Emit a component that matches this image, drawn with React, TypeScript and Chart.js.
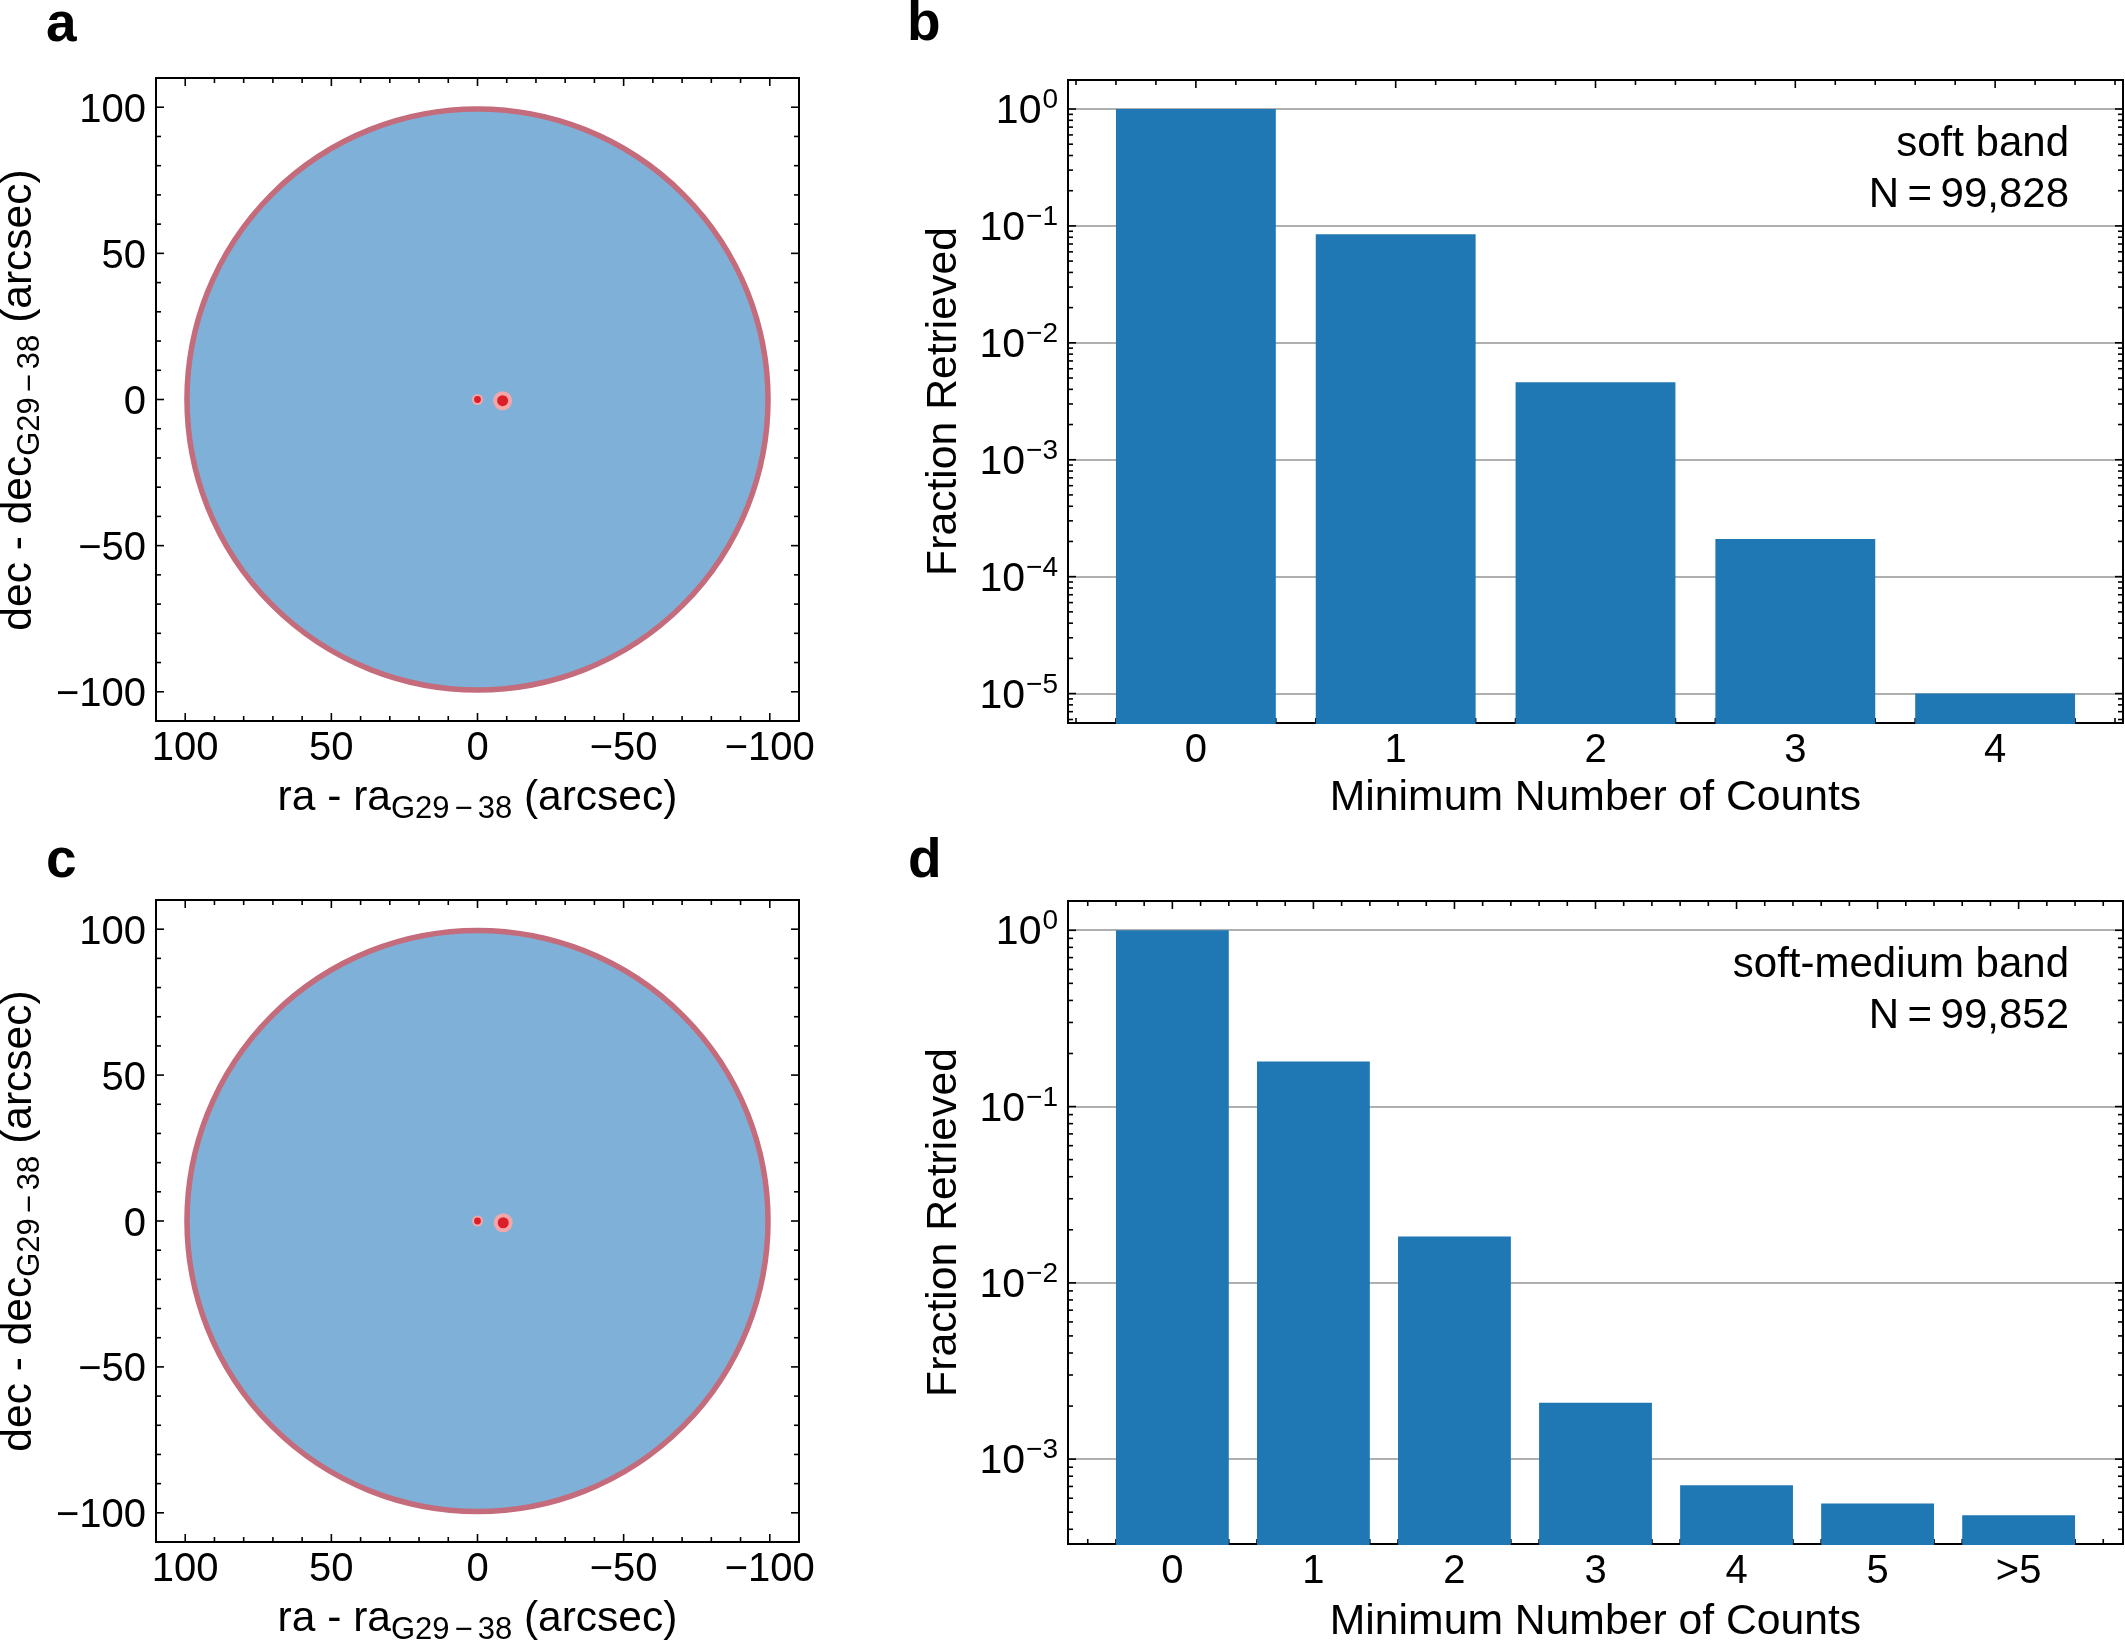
import React, { useEffect, useRef } from "react";
import { Chart, registerables } from "chart.js";

Chart.register(...registerables);

const FONT = '"Liberation Sans", Helvetica, Arial, sans-serif';

// ---- data ----
const skyTicks = [100, 50, 0, -50, -100];
const fieldCentre = { x: 0, y: 0 };
const fieldRadiusArcsec = 99.4;
const sourceRaA = [0, -8.6];
const sourceDecA = [0, -0.4];
const sourceRaC = [0, -8.8];
const sourceDecC = [0, -0.6];

const softCategories = ["0", "1", "2", "3", "4"];
const softFractions = [1, 0.085, 0.0046, 0.00021, 0.00001];
const softMediumCategories = ["0", "1", "2", "3", "4", "5", ">5"];
const softMediumFractions = [1, 0.18, 0.0183, 0.00209, 0.00071, 0.00056, 0.00048];
const softDecades = [1, 0.1, 0.01, 0.001, 0.0001, 0.00001];
const softMediumDecades = [1, 0.1, 0.01, 0.001];

const xCountsLabel = "Minimum Number of Counts";
const yFractionLabel = "Fraction Retrieved";
const softNotes = ["soft band", "N\u2009=\u200999,828"];
const softMediumNotes = ["soft-medium band", "N\u2009=\u200999,852"];

// ---- shared drawing helpers ----
const TICK = "#000";
const MAJOR_LEN = 8;
const MINOR_LEN = 5;

function frameAndTicks(chart: any, xMinor: number[], yMinor: number[]) {
  const { ctx, chartArea: a, scales } = chart;
  const { left, right, top, bottom } = a;
  ctx.save();
  ctx.strokeStyle = TICK;
  const tick = (x0: number, y0: number, x1: number, y1: number) => {
    ctx.beginPath();
    ctx.moveTo(x0, y0);
    ctx.lineTo(x1, y1);
    ctx.stroke();
  };
  const xs = (vals: number[], len: number) =>
    vals.forEach((v) => {
      const p = scales.x.getPixelForValue(v);
      tick(p, top, p, top + len);
      tick(p, bottom, p, bottom - len);
    });
  const ys = (vals: number[], len: number) =>
    vals.forEach((v) => {
      const p = scales.y.getPixelForValue(v);
      tick(left, p, left + len, p);
      tick(right, p, right - len, p);
    });
  ctx.lineWidth = 1.6;
  xs(xMinor, MINOR_LEN);
  ys(yMinor, MINOR_LEN);
  xs(scales.x.ticks.map((t: any) => t.value), MAJOR_LEN);
  ys(scales.y.ticks.map((t: any) => t.value), MAJOR_LEN);
  ctx.lineWidth = 2;
  ctx.strokeRect(left, top, right - left, bottom - top);
  ctx.restore();
}

function panelLetter(ctx: any, letter: string, x: number, y: number) {
  ctx.save();
  ctx.fillStyle = "#000";
  ctx.textAlign = "left";
  ctx.textBaseline = "alphabetic";
  ctx.font = `bold 55px ${FONT}`;
  ctx.fillText(letter, x, y);
  ctx.restore();
}

type Part = { t: string; size: number; dy: number; gap?: number };

function skyLabelParts(name: string): Part[] {
  return [
    { t: `${name} - ${name}`, size: 42.5, dy: 0 },
    { t: "G29", size: 31, dy: 7.5, gap: 5 },
    { t: "\u2212", size: 31, dy: 7.5, gap: 5 },
    { t: "38", size: 31, dy: 7.5 },
    { t: " (arcsec)", size: 42.5, dy: 0 },
  ];
}

function drawParts(ctx: any, parts: Part[], cx: number, cy: number, rotate: boolean) {
  ctx.save();
  ctx.fillStyle = "#000";
  ctx.textAlign = "left";
  ctx.textBaseline = "alphabetic";
  ctx.translate(cx, cy);
  if (rotate) ctx.rotate(-Math.PI / 2);
  let total = 0;
  parts.forEach((p) => {
    ctx.font = `${p.size}px ${FONT}`;
    total += ctx.measureText(p.t).width + (p.gap || 0);
  });
  let x = -total / 2;
  parts.forEach((p) => {
    ctx.font = `${p.size}px ${FONT}`;
    ctx.fillText(p.t, x, p.dy);
    x += ctx.measureText(p.t).width + (p.gap || 0);
  });
  ctx.restore();
}

function decadeLabels(chart: any) {
  const { ctx, chartArea, scales } = chart;
  ctx.save();
  ctx.fillStyle = "#000";
  ctx.textBaseline = "alphabetic";
  ctx.textAlign = "left";
  scales.y.ticks.forEach((t: any) => {
    const exp = Math.round(Math.log10(t.value));
    const sup = exp === 0 ? "0" : `\u2212${Math.abs(exp)}`;
    const p = scales.y.getPixelForValue(t.value);
    ctx.font = `28px ${FONT}`;
    const supW = ctx.measureText(sup).width;
    ctx.font = `41px ${FONT}`;
    const mainW = ctx.measureText("10").width;
    const xRight = chartArea.left - 10;
    ctx.fillText("10", xRight - supW - mainW - 1, p + 14);
    ctx.font = `28px ${FONT}`;
    ctx.fillText(sup, xRight - supW, p - 1);
  });
  ctx.restore();
}

function skyChart(
  canvas: HTMLCanvasElement,
  g: { top: number; right: number; axisW: number; axisH: number; letter: string; lx: number; ly: number; yCentre: number },
  raValues: number[],
  decValues: number[]
) {
  const points = raValues.map((x, i) => ({ x, y: decValues[i] }));
  const step = (min: number, max: number, s: number) => {
    const out: number[] = [];
    for (let v = Math.ceil(min / s) * s; v <= max; v += s) if (v % 50 !== 0) out.push(v);
    return out;
  };
  const axis = (extra: any) => ({
    type: "linear",
    min: -110,
    max: 110,
    grid: { display: false, drawTicks: false },
    border: { display: false },
    afterBuildTicks: (s: any) => {
      s.ticks = skyTicks.map((value) => ({ value }));
    },
    ...extra,
  });
  const tickFmt = (v: number) => (v < 0 ? `\u2212${Math.abs(v)}` : `${v}`);
  return new Chart(canvas, {
    type: "scatter",
    data: {
      datasets: [
        {
          data: points,
          pointRadius: [3.4, 5.5],
          pointBackgroundColor: "#DA1F28",
          pointBorderWidth: 0,
          order: 0,
        },
        {
          data: points,
          pointRadius: [5.5, 9.5],
          pointBackgroundColor: "#F5A6A9",
          pointBorderWidth: 0,
          order: 1,
        },
        {
          data: [fieldCentre],
          pointRadius: (c: any) =>
            Math.abs(
              c.chart.scales.x.getPixelForValue(fieldRadiusArcsec) -
                c.chart.scales.x.getPixelForValue(0)
            ),
          pointBackgroundColor: "#7FB1D8",
          pointBorderColor: "#C46B7C",
          pointBorderWidth: 5.5,
          order: 2,
        },
      ],
    } as any,
    options: {
      animation: false,
      responsive: false,
      layout: { padding: { top: g.top, right: g.right, left: 0, bottom: 0 } },
      plugins: { legend: { display: false }, tooltip: { enabled: false } },
      scales: {
        x: axis({
          reverse: true,
          afterFit: (s: any) => {
            s.height = g.axisH;
          },
          ticks: {
            autoSkip: false,
            maxRotation: 0,
            padding: 4,
            color: "#000",
            font: { family: FONT, size: 40 },
            callback: tickFmt,
          },
        }),
        y: axis({
          afterFit: (s: any) => {
            s.width = g.axisW;
            if (!s.__labelShift) {
              // digits sit above the em-box middle: nudge the native labels onto the tick
              const base = s.getPixelForTick.bind(s);
              s.getPixelForTick = (i: number) => base(i) + 3.5;
              s.__labelShift = true;
            }
          },
          ticks: {
            autoSkip: false,
            padding: 10,
            color: "#000",
            font: { family: FONT, size: 40 },
            callback: tickFmt,
          },
        }),
      },
    } as any,
    plugins: [
      {
        id: "skyDecor",
        beforeDatasetsDraw(chart: any) {
          frameAndTicks(chart, step(-110, 110, 10), step(-110, 110, 10));
        },
        afterDraw(chart: any) {
          const { ctx, chartArea: a } = chart;
          panelLetter(ctx, g.letter, g.lx, g.ly);
          drawParts(ctx, skyLabelParts("ra"), (a.left + a.right) / 2, a.bottom + 89, false);
          drawParts(ctx, skyLabelParts("dec"), 31, g.yCentre, true);
        },
      },
    ],
  });
}

function countsChart(
  canvas: HTMLCanvasElement,
  g: {
    top: number;
    right: number;
    axisW: number;
    axisH: number;
    letter: string;
    lx: number;
    ly: number;
    yMin: number;
    yMax: number;
    noteX: number;
    noteY: number[];
    titlePad: number;
  },
  categories: string[],
  values: number[],
  decades: number[],
  notes: string[]
) {
  const n = categories.length;
  const xMin = -0.4 - 0.05 * (n - 1 + 0.8);
  const xMax = n - 1 + 0.4 + 0.05 * (n - 1 + 0.8);
  const xMinor: number[] = [];
  for (let i = Math.ceil(xMin * 5); i <= Math.floor(xMax * 5); i++) if (i % 5 !== 0) xMinor.push(i / 5);
  const yMinor: number[] = [];
  for (let e = 0; e >= -7; e--)
    for (let m = 2; m <= 9; m++) {
      const v = m * Math.pow(10, e);
      if (v > g.yMin && v < g.yMax) yMinor.push(v);
    }
  return new Chart(canvas, {
    type: "bar",
    data: {
      datasets: [
        {
          data: values.map((y, x) => ({ x, y })),
          backgroundColor: "#1f77b4",
          borderWidth: 0,
          categoryPercentage: 1,
          barPercentage: 0.8,
          base: g.yMin * 0.8,
          clip: { left: 0, top: 0, right: 0, bottom: 1 },
        },
      ],
    } as any,
    options: {
      animation: false,
      responsive: false,
      layout: { padding: { top: g.top, right: g.right, left: 0, bottom: 0 } },
      plugins: { legend: { display: false }, tooltip: { enabled: false } },
      scales: {
        x: {
          type: "linear",
          offset: false,
          min: xMin,
          max: xMax,
          grid: { display: false, drawTicks: false },
          border: { display: false },
          afterBuildTicks: (s: any) => {
            s.ticks = categories.map((_, value) => ({ value }));
          },
          afterFit: (s: any) => {
            s.height = g.axisH;
          },
          ticks: {
            autoSkip: false,
            maxRotation: 0,
            padding: 4,
            color: "#000",
            font: { family: FONT, size: 40 },
            callback: (v: number) => categories[v],
          },
          title: {
            display: true,
            text: xCountsLabel,
            color: "#000",
            font: { family: FONT, size: 42.7, lineHeight: 0.8 },
            padding: { top: 0, bottom: g.titlePad },
          },
        },
        y: {
          type: "logarithmic",
          bounds: "data",
          min: g.yMin,
          max: g.yMax,
          grid: { color: "#b0b0b0", lineWidth: 2, drawTicks: false },
          border: { display: false },
          afterBuildTicks: (s: any) => {
            s.ticks = decades.map((value) => ({ value }));
          },
          afterFit: (s: any) => {
            s.width = g.axisW;
          },
          ticks: { autoSkip: false, padding: 10, callback: () => "", font: { family: FONT, size: 40 } },
          title: {
            display: true,
            text: yFractionLabel,
            color: "#000",
            font: { family: FONT, size: 42.7, lineHeight: 0.8 },
            padding: { top: 47, bottom: 0 },
          },
        },
      },
    } as any,
    plugins: [
      {
        id: "countsDecor",
        beforeDatasetsDraw(chart: any) {
          frameAndTicks(chart, xMinor, yMinor);
        },
        afterDraw(chart: any) {
          const { ctx } = chart;
          panelLetter(ctx, g.letter, g.lx, g.ly);
          decadeLabels(chart);
          ctx.save();
          ctx.fillStyle = "#000";
          ctx.textAlign = "right";
          ctx.textBaseline = "alphabetic";
          ctx.font = `42px ${FONT}`;
          notes.forEach((t, i) => ctx.fillText(t, g.noteX, g.noteY[i]));
          ctx.restore();
        },
      },
    ],
  });
}

export default function App() {
  const a = useRef<HTMLCanvasElement>(null);
  const b = useRef<HTMLCanvasElement>(null);
  const c = useRef<HTMLCanvasElement>(null);
  const d = useRef<HTMLCanvasElement>(null);

  useEffect(() => {
    const charts = [
      skyChart(
        a.current!,
        { top: 78, right: 81, axisW: 156, axisH: 109, letter: "a", lx: 46, ly: 41, yCentre: 400 },
        sourceRaA,
        sourceDecA
      ),
      countsChart(
        b.current!,
        {
          top: 80,
          right: 2,
          axisW: 188,
          axisH: 107,
          letter: "b",
          lx: 27,
          ly: 40,
          yMin: 5.6e-6,
          yMax: 1.77,
          noteX: 1189,
          noteY: [156, 207],
          titlePad: 15,
        },
        softCategories,
        softFractions,
        softDecades,
        softNotes
      ),
      skyChart(
        c.current!,
        { top: 70, right: 81, axisW: 156, axisH: 98, letter: "c", lx: 46, ly: 47, yCentre: 391 },
        sourceRaC,
        sourceDecC
      ),
      countsChart(
        d.current!,
        {
          top: 71,
          right: 2,
          axisW: 188,
          axisH: 96,
          letter: "d",
          lx: 28,
          ly: 47,
          yMin: 3.3e-4,
          yMax: 1.466,
          noteX: 1189,
          noteY: [147, 198],
          titlePad: 1,
        },
        softMediumCategories,
        softMediumFractions,
        softMediumDecades,
        softMediumNotes
      ),
    ];
    return () => charts.forEach((ch) => ch.destroy());
  }, []);

  const style = (left: number, top: number): React.CSSProperties => ({
    position: "absolute",
    left,
    top,
    display: "block",
  });

  return (
    <div style={{ position: "fixed", inset: 0, background: "#fff", overflow: "hidden" }}>
      <canvas ref={a} width={880} height={830} style={style(0, 0)} />
      <canvas ref={b} width={1245} height={830} style={style(880, 0)} />
      <canvas ref={c} width={880} height={810} style={style(0, 830)} />
      <canvas ref={d} width={1245} height={810} style={style(880, 830)} />
    </div>
  );
}
